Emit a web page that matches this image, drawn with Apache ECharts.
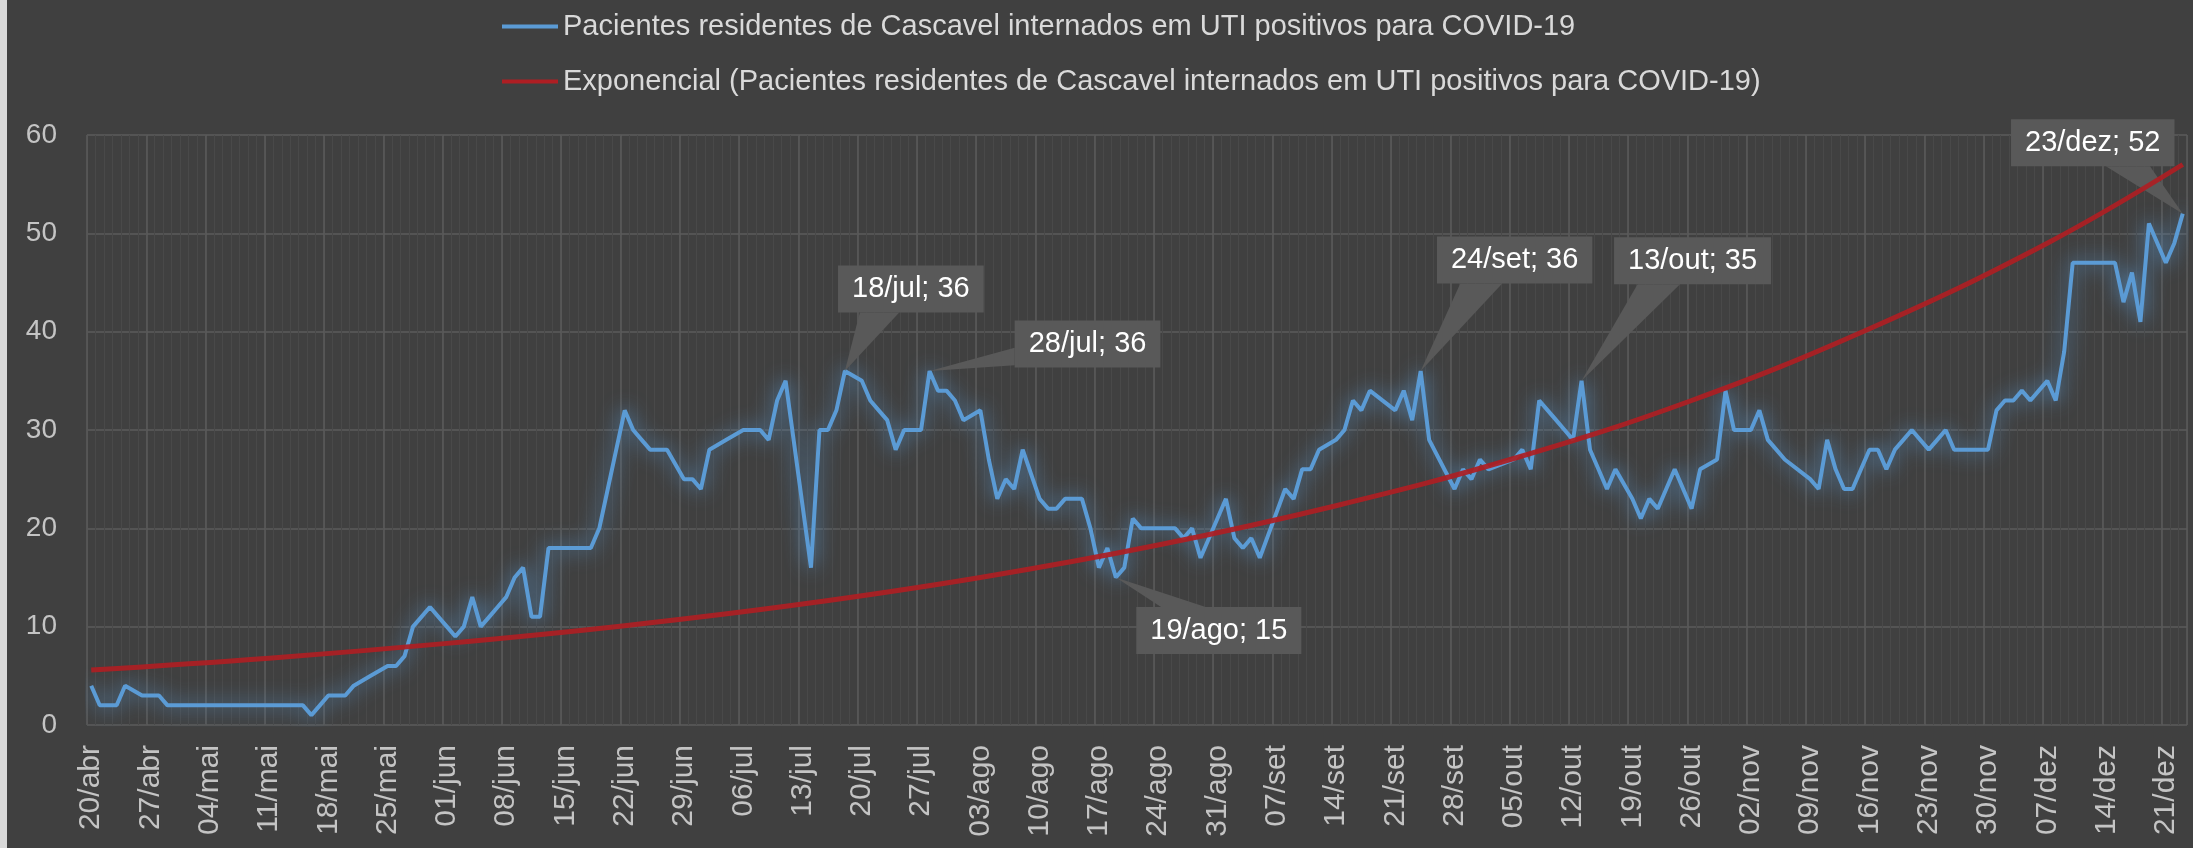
<!DOCTYPE html>
<html><head><meta charset="utf-8">
<script src="https://cdn.jsdelivr.net/npm/echarts@6/dist/echarts.min.js"></script>
<style>html,body{margin:0;padding:0;background:#404040;} #c{width:2193px;height:848px;}</style>
</head><body><div id="c"></div>
<script>
// ---- categories (daily, 20/abr .. 23/dez) ----
const monthNames = ['abr','mai','jun','jul','ago','set','out','nov','dez'];
const monthFirstDay = [20,1,1,1,1,1,1,1,1];
const monthLastDay  = [30,31,30,31,31,30,31,30,23];
const categories = [];
monthNames.forEach((m,k)=>{ for(let d=monthFirstDay[k]; d<=monthLastDay[k]; d++) categories.push(String(d).padStart(2,'0')+'/'+m); });

// ---- series values (null = no value that day, line connects) ----
const pacientesUTI = [
  4,2,2,2,4,null,3,3,3,2,
  2,2,2,2,2,2,2,2,2,2,
  2,2,2,2,2,2,1,2,3,3,
  3,4,null,5,null,6,6,7,10,11,
  12,11,10,9,10,13,10,11,12,13,
  15,16,11,11,18,18,18,18,18,18,
  20,24,28,32,30,29,28,28,28,null,
  25,25,24,28,null,29,null,30,30,30,
  29,33,35,null,null,16,30,30,32,36,
  null,35,33,32,31,28,30,30,30,36,
  34,34,33,31,null,32,27,23,25,24,
  28,null,23,22,22,23,23,23,20,16,
  18,15,16,21,20,20,20,20,20,19,
  20,17,19,21,23,19,18,19,17,null,
  null,24,23,26,26,28,null,29,30,33,
  32,34,null,null,32,34,31,36,29,null,
  null,24,26,25,27,26,null,null,27,28,
  26,33,32,31,30,29,35,28,26,24,
  26,null,23,21,23,22,24,26,24,22,
  26,null,27,34,30,30,30,32,29,28,
  27,null,null,25,24,29,26,24,24,26,
  28,28,26,28,29,30,29,28,29,30,
  28,28,28,28,28,32,33,33,34,33,
  34,35,33,38,47,47,47,47,47,47,
  43,46,41,51,49,47,49,52
];
// exponential trendline, values at these days
const trendDays   = [0, 21, 42, 63, 84, 105, 126, 147, 168, 189, 210, 231, 247];
const trendValues = [5.6, 6.8, 8.3, 10.1, 12.3, 15.0, 18.3, 22.3, 27.1, 33.0, 40.3, 49.0, 57.0];
// annotated points (day indices)
const calloutDays = [89, 99, 121, 157, 176, 247];
const yTicks = [0, 10, 20, 30, 40, 50, 60];

const seriesName = 'Pacientes residentes de Cascavel internados em UTI positivos para COVID-19';
const trendName = 'Exponencial (Pacientes residentes de Cascavel internados em UTI positivos para COVID-19)';

// ---- layout / style ----
const FONT = 'Liberation Sans';
const calloutOffsets = [[66,-82],[158,-27],[103,53],[94,-111],[111,-120],[-90,-71]];
const CALLOUT_FS = 29, CALLOUT_PADX = 14, CALLOUT_H = 47;

const trendData = categories.map(()=>null);
trendDays.forEach((d,k)=>{ trendData[d] = trendValues[k]; });
const calloutData = calloutDays.map(d=>[d, pacientesUTI[d]]);

const mctx = document.createElement('canvas').getContext('2d');
function textWidth(t){ mctx.font = CALLOUT_FS + 'px "' + FONT + '"'; return mctx.measureText(t).width; }

function renderCallout(params, api){
  const i = api.value(0), v = api.value(1);
  const p = api.coord([i, v]);
  const text = categories[i] + '; ' + v;
  const w = textWidth(text) + 2*CALLOUT_PADX, h = CALLOUT_H;
  const off = calloutOffsets[params.dataIndex];
  const cx = p[0] + off[0], cy = p[1] + off[1];
  const x0 = cx - w/2, y0 = cy - h/2;
  const nx = (p[0]-cx)/(w/2), ny = (p[1]-cy)/(h/2);
  let b1, b2;
  if (Math.abs(ny) >= Math.abs(nx)) {
    const ey = ny > 0 ? y0 + h : y0;
    const dir = p[0] >= cx ? 1 : -1;
    b1 = [cx + dir*0.08*w, ey]; b2 = [cx + dir*0.35*w, ey];
  } else {
    const ex = nx > 0 ? x0 + w : x0;
    const dir = p[1] >= cy ? 1 : -1;
    b1 = [ex, cy + dir*0.08*h]; b2 = [ex, cy + dir*0.45*h];
  }
  return {type:'group', children:[
    {type:'polygon', shape:{points:[p, b1, b2]}, style:{fill:'#595959'}},
    {type:'rect', shape:{x:x0, y:y0, width:w, height:h}, style:{fill:'#595959'}},
    {type:'text', style:{text:text, x:cx, y:cy, fill:'#ffffff', font: CALLOUT_FS+'px "'+FONT+'"', align:'center', verticalAlign:'middle'}}
  ]};
}

const chart = echarts.init(document.getElementById('c'), null, {renderer:'canvas'});
chart.setOption({
  backgroundColor:'#404040',
  animation:false,
  textStyle:{fontFamily:FONT},
  graphic:[{type:'rect', left:0, top:0, shape:{width:7, height:848}, style:{fill:'#d9d9d9'}, silent:true}],
  legend:{
    data:[seriesName, trendName], orient:'vertical', left:497, top:7, itemGap:26,
    icon:'rect', itemWidth:56, itemHeight:4,
    textStyle:{color:'#D9D9D9', fontSize:29, fontFamily:FONT}, selectedMode:false
  },
  grid:{left:87, right:6, top:135, bottom:123, containLabel:false},
  xAxis:[
    {type:'category', data:categories, boundaryGap:true, z:2,
     axisLine:{show:false}, axisTick:{show:false},
     axisLabel:{interval:6, rotate:90, color:'#C4C4C4', fontSize:30, fontFamily:FONT, margin:20},
     splitLine:{show:true, interval:6, lineStyle:{color:'#5B5B5B', width:1.5}}},
    {type:'category', data:categories, boundaryGap:true, z:1, position:'bottom',
     axisLine:{show:false}, axisTick:{show:false}, axisLabel:{show:false},
     splitLine:{show:true, interval:0, lineStyle:{color:'#494949', width:1}}}
  ],
  yAxis:{type:'value', min:yTicks[0], max:yTicks[yTicks.length-1], interval:10,
     axisLine:{show:false}, axisTick:{show:false},
     axisLabel:{color:'#C4C4C4', fontSize:28, fontFamily:FONT, margin:30},
     splitLine:{lineStyle:{color:'#5B5B5B', width:1.5}}},
  series:[
    {name:seriesName, type:'line', data:pacientesUTI, connectNulls:true, showSymbol:false, silent:true, z:3,
     itemStyle:{color:'#5B9BD5'},
     lineStyle:{color:'#5B9BD5', width:4, shadowColor:'rgba(91,155,213,1)', shadowBlur:20}},
    {name:trendName, type:'line', data:trendData, connectNulls:true, smooth:0.4, showSymbol:false, silent:true, z:5,
     itemStyle:{color:'#AE1E23'},
     lineStyle:{color:'#AE1E23', width:5, opacity:0.92}},
    {type:'custom', data:calloutData, renderItem:renderCallout, z:4, silent:true,
     encode:{x:0, y:1}}
  ]
});
</script></body></html>
